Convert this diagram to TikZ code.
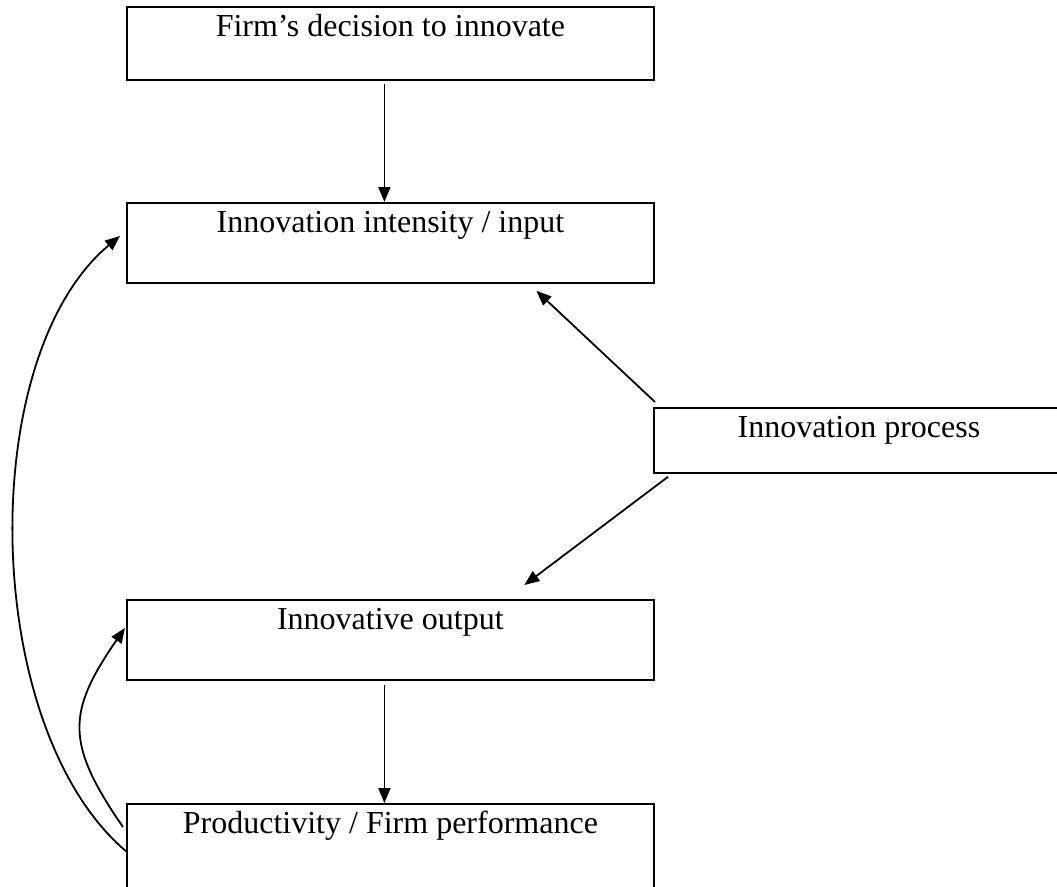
\documentclass[tikz,border=0pt]{standalone}
\usepackage{fontspec}
\setmainfont{Liberation Serif}
\usetikzlibrary{arrows.meta,positioning}
\begin{document}
\begin{tikzpicture}[x=1pt, y=-1pt, >={Triangle[length=15pt,width=12pt]}, line width=1.8pt,
    font=\fontsize{32}{36}\selectfont,
    box/.style={draw, anchor=north west, minimum width=527pt, inner ysep=0pt, text height=30pt}]
\useasboundingbox (0,0) rectangle (1057,886);
\node[box, text depth=43pt] (decision) at (126,6) {Firm’s decision to innovate};
\node[box, text depth=50pt] (intensity) at (126,202) {Innovation intensity / input};
\node[box, text depth=35pt, minimum width=410pt] (process) at (653,407) {Innovation process};
\node[box, text depth=50pt] (output) at (126,599) {Innovative output};
\node[box, text depth=110pt] (perform) at (126,803) {Productivity / Firm performance};
\draw[->] ([xshift=-6pt,yshift=-3pt]decision.south) -- ([xshift=-6pt]intensity.north);
\draw[->] ([xshift=2pt,yshift=5pt]process.north west) -- ([xshift=146pt,yshift=-7pt]intensity.south);
\draw[->] ([xshift=15pt,yshift=-3pt]process.south west) -- ([xshift=134pt,yshift=14pt]output.north);
\draw[->] ([xshift=-6pt,yshift=-4pt]output.south) -- ([xshift=-6pt]perform.north);
\draw[->] ([xshift=1pt,yshift=-49pt]perform.north west) .. controls +(-146,-122) and +(-146,122) .. ([xshift=-6pt,yshift=7pt]intensity.west);
\draw[->] ([xshift=-3pt,yshift=-24pt]perform.north west) .. controls +(-58,-84) and +(-58,84) .. ([xshift=-1pt,yshift=12pt]output.west);
\end{tikzpicture}
\end{document}
